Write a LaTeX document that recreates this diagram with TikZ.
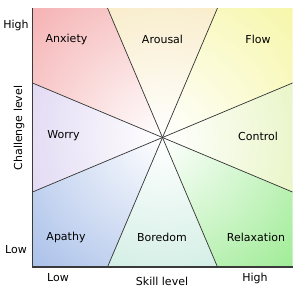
\documentclass[tikz,border=0pt]{standalone}
\usepackage{fontspec}
\setmainfont{DejaVu Sans}
\definecolor{cAnx}{HTML}{F08A8C}
\definecolor{cAro}{HTML}{F2DA98}
\definecolor{cFlow}{HTML}{F2F27E}
\definecolor{cCtl}{HTML}{D4EC92}
\definecolor{cRel}{HTML}{6EE260}
\definecolor{cBor}{HTML}{A8DECC}
\definecolor{cApa}{HTML}{7EA0DE}
\definecolor{cWor}{HTML}{C6B6E8}
\definecolor{lineC}{HTML}{333333}
\definecolor{axisC}{HTML}{3A3A3A}
\begin{document}
\begin{tikzpicture}[x=1pt,y=-1pt,
  lbl/.style={font=\fontsize{11}{13}\selectfont, text=black, inner sep=0pt},
  sep/.style={draw=lineC, line width=0.7pt},
  axisline/.style={draw=axisC, line width=1.6pt},
  fadeR/.style={inner color=white,outer color=#1}]
\useasboundingbox (0,0) rectangle (300,292);
\coordinate (C) at (162.5,137.5);
\coordinate (TL) at (32.5,8);
\coordinate (TR) at (292.5,8);
\coordinate (BR) at (292.5,267);
\coordinate (BL) at (32.5,267);
\coordinate (Ta) at (107.5,8);
\coordinate (Tb) at (217.5,8);
\coordinate (Ra) at (292.5,83);
\coordinate (Rb) at (292.5,192);
\coordinate (Ba) at (217.5,267);
\coordinate (Bb) at (107.5,267);
\coordinate (La) at (32.5,192);
\coordinate (Lb) at (32.5,83);
\def\rr{280}
% sectors
\begin{scope}\clip (C)--(Lb)--(TL)--(Ta)--cycle;
\shade[fadeR=cAnx] (C) circle (\rr);\end{scope}
\begin{scope}\clip (C)--(Ta)--(Tb)--cycle;
\shade[fadeR=cAro] (C) circle (\rr);\end{scope}
\begin{scope}\clip (C)--(Tb)--(TR)--(Ra)--cycle;
\shade[fadeR=cFlow] (C) circle (\rr);\end{scope}
\begin{scope}\clip (C)--(Ra)--(Rb)--cycle;
\shade[fadeR=cCtl] (C) circle (\rr);\end{scope}
\begin{scope}\clip (C)--(Rb)--(BR)--(Ba)--cycle;
\shade[fadeR=cRel] (C) circle (\rr);\end{scope}
\begin{scope}\clip (C)--(Ba)--(Bb)--cycle;
\shade[fadeR=cBor] (C) circle (\rr);\end{scope}
\begin{scope}\clip (C)--(Bb)--(BL)--(La)--cycle;
\shade[fadeR=cApa] (C) circle (\rr);\end{scope}
\begin{scope}\clip (C)--(La)--(Lb)--cycle;
\shade[fadeR=cWor] (C) circle (\rr);\end{scope}
% separators
\draw[sep] (Ta)--(Ba);
\draw[sep] (Tb)--(Bb);
\draw[sep] (Lb)--(Rb);
\draw[sep] (La)--(Ra);
% axes
\draw[axisline] (TL)--(BL)--(BR);
% region labels
\node[lbl] (anx) at (66.5,39) {Anxiety};
\node[lbl] (aro) at (162.5,39) {Arousal};
\node[lbl] (flow) at (258,39) {Flow};
\node[lbl] (wor) at (63.5,136) {Worry};
\node[lbl] (ctl) at (258,136) {Control};
\node[lbl] (apa) at (66,237) {Apathy};
\node[lbl] (bor) at (162,237) {Boredom};
\node[lbl] (rel) at (256,237) {Relaxation};
% axis labels
\node[lbl] (yhigh) at (16,25) {High};
\node[lbl] (ylow) at (16,250) {Low};
\node[lbl, rotate=90] (ytitle) at (19,128) {Challenge level};
\node[lbl] (xlow) at (58,278) {Low};
\node[lbl] (xhigh) at (255,278) {High};
\node[lbl] (xtitle) at (162,281) {Skill level};
\end{tikzpicture}
\end{document}
